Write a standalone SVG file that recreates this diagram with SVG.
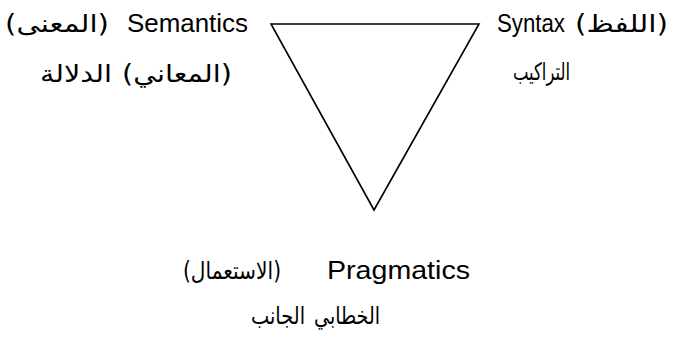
<svg xmlns="http://www.w3.org/2000/svg" width="673" height="342" viewBox="0 0 673 342">
<style>
.en{font-family:"Liberation Sans",Arial,sans-serif;font-size:26px;fill:#000}
.ar{font-family:"DejaVu Sans",sans-serif;font-size:24px;fill:#000}
.tri{fill:none;stroke:#000;stroke-width:1.6;stroke-linejoin:miter}
</style>
<rect width="673" height="342" fill="#fff"/>
<g id="connectors">
<polygon class="tri" points="271,24 479,24 374,210"/>
</g>
<g id="semantics">
<text class="ar" x="5" y="32" textLength="104" lengthAdjust="spacingAndGlyphs">(المعنى)</text>
<text class="en" x="127" y="32" textLength="121" lengthAdjust="spacingAndGlyphs">Semantics</text>
<text class="ar" x="40" y="82" textLength="72" lengthAdjust="spacingAndGlyphs">الدلالة</text>
<text class="ar" x="122" y="82" textLength="110" lengthAdjust="spacingAndGlyphs">(المعاني)</text>
</g>
<g id="syntax">
<text class="en" x="497" y="32" textLength="68" lengthAdjust="spacingAndGlyphs">Syntax</text>
<text class="ar" x="575" y="32" textLength="93" lengthAdjust="spacingAndGlyphs">(اللفظ)</text>
<text class="ar" x="513" y="80" textLength="57" lengthAdjust="spacingAndGlyphs">التراكيب</text>
</g>
<g id="pragmatics">
<text class="ar" x="183" y="279" textLength="98" lengthAdjust="spacingAndGlyphs">(الاستعمال)</text>
<text class="en" x="327" y="279" textLength="143" lengthAdjust="spacingAndGlyphs">Pragmatics</text>
<text class="ar" x="251" y="324" textLength="54" lengthAdjust="spacingAndGlyphs">الجانب</text>
<text class="ar" x="314" y="324" textLength="66" lengthAdjust="spacingAndGlyphs">الخطابي</text>
</g>
</svg>
